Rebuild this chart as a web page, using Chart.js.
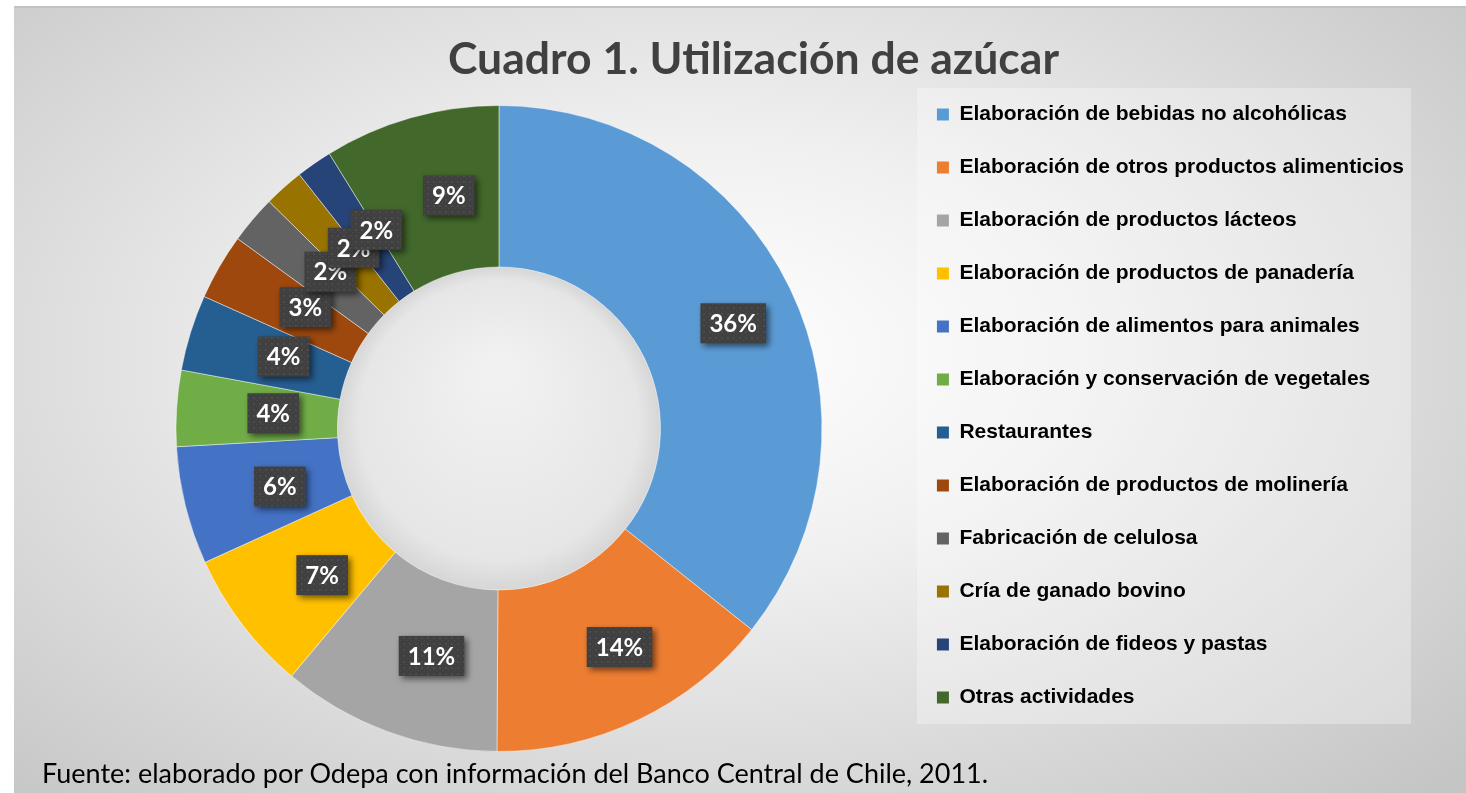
<!DOCTYPE html>
<html lang="es">
<head>
<meta charset="utf-8">
<title>Cuadro 1. Utilización de azúcar</title>
<script src="https://cdn.jsdelivr.net/npm/chart.js@4.4.1/dist/chart.umd.min.js"></script>
<style>
    html, body { margin: 0; padding: 0; background: #fff; }
    body { width: 1466px; height: 793px; position: relative; overflow: hidden; }
    #frame {
        position: absolute; left: 14px; top: 6px; right: 0; bottom: 0;
        border-top: 2px solid #c3c3c3;
        background: radial-gradient(ellipse 72% 78% at 47% 44%, #ffffff 0%, #f0f0f0 35%, #c5c5c5 100%);
    }
    #wrap { position: absolute; left: 0; top: 0; width: 1466px; height: 793px; }
    #source {
        position: absolute; left: 42px; top: 756px;
        font-family: Lato, "Open Sans", sans-serif; font-size: 27px; color: #000;
        white-space: nowrap;
    }
</style>
</head>
<body>
<div id="frame"></div>
<div id="wrap"><canvas id="chart"></canvas></div>
<div id="source">Fuente: elaborado por Odepa con información del Banco Central de Chile, 2011.</div>
<script>
const categories = [
    "Elaboración de bebidas no alcohólicas",
    "Elaboración de otros productos alimenticios",
    "Elaboración de productos lácteos",
    "Elaboración de productos de panadería",
    "Elaboración de alimentos para animales",
    "Elaboración y conservación de vegetales",
    "Restaurantes",
    "Elaboración de productos de molinería",
    "Fabricación de celulosa",
    "Cría de ganado bovino",
    "Elaboración de fideos y pastas",
    "Otras actividades"
];
// participación en %
const shares = [35.7, 14.4, 11.0, 7.1, 5.9, 3.8, 3.8, 3.3, 2.4, 2.0, 1.8, 8.8];
const sliceColors = [
    "#5b9bd5", "#ed7d31", "#a5a5a5", "#ffc000", "#4472c4", "#70ad47",
    "#255e91", "#9e480e", "#636363", "#997300", "#264478", "#43682b"
];

const legendPad = 32;

// textura de puntos para las etiquetas
const dots = document.createElement("canvas");
dots.width = 6; dots.height = 6;
const dctx = dots.getContext("2d");
dctx.fillStyle = "#404040";
dctx.fillRect(0, 0, 6, 6);
dctx.fillStyle = "#4c4c4c";
dctx.fillRect(1, 1, 2, 2);
dctx.fillRect(4, 4, 1, 1);

const legendBox = {
    id: "legendBox",
    beforeDraw(chart) {
        const lg = chart.legend;
        if (!lg || !lg.columnSizes) return;
        const col = lg.columnSizes[0];
        const y0 = (lg.top + legendPad + lg.bottom - col.height) / 2;
        const x0 = lg.left + legendPad;
        const ctx = chart.ctx;
        ctx.save();
        ctx.fillStyle = "rgba(255,255,255,0.3)";
        ctx.fillRect(x0 - 20, y0 - 16, col.width + 27, col.height);
        ctx.restore();
    }
};

const holeFill = {
    id: "holeFill",
    beforeDatasetsDraw(chart) {
        const arc = chart.getDatasetMeta(0).data[0];
        if (!arc) return;
        const {x, y, innerRadius} = arc.getProps(["x", "y", "innerRadius"], true);
        const ctx = chart.ctx;
        ctx.save();
        const g = ctx.createRadialGradient(x, y - innerRadius * 0.35, innerRadius * 0.1, x, y, innerRadius);
        g.addColorStop(0, "#f1f1f1");
        g.addColorStop(0.85, "#e6e6e6");
        g.addColorStop(1, "#d6d6d6");
        ctx.fillStyle = g;
        ctx.beginPath();
        ctx.arc(x, y, innerRadius, 0, Math.PI * 2);
        ctx.fill();
        ctx.restore();
    }
};

const sliceLabels = {
    id: "sliceLabels",
    afterDatasetsDraw(chart) {
        const ctx = chart.ctx;
        const meta = chart.getDatasetMeta(0);
        const total = shares.reduce((a, b) => a + b, 0);
        const pattern = ctx.createPattern(dots, "repeat");
        ctx.save();
        ctx.font = "bold 24px Lato, 'Open Sans', sans-serif";
        ctx.textAlign = "center";
        ctx.textBaseline = "middle";
        meta.data.forEach((arc, i) => {
            const p = arc.getProps(["x", "y", "startAngle", "endAngle", "innerRadius", "outerRadius"], true);
            const mid = (p.startAngle + p.endAngle) / 2;
            const r = (p.innerRadius + p.outerRadius) / 2;
            const cx = p.x + Math.cos(mid) * r + 16;
            const cy = p.y + Math.sin(mid) * r;
            const text = Math.round(shares[i] / total * 100) + "%";
            const w = ctx.measureText(text).width + 18;
            const h = 40;
            ctx.shadowColor = "rgba(0,0,0,0.55)";
            ctx.shadowBlur = 6;
            ctx.shadowOffsetX = 3;
            ctx.shadowOffsetY = 3;
            ctx.fillStyle = pattern;
            ctx.fillRect(cx - w / 2, cy - h / 2, w, h);
            ctx.shadowColor = "transparent";
            ctx.fillStyle = "#ffffff";
            ctx.fillText(text, cx, cy + 1);
        });
        ctx.restore();
    }
};

new Chart(document.getElementById("chart"), {
    type: "doughnut",
    data: {
        labels: categories,
        datasets: [{
            data: shares,
            backgroundColor: sliceColors,
            borderColor: "rgba(255,255,255,0.45)",
            borderWidth: 1,
            hoverOffset: 0
        }]
    },
    options: {
        responsive: true,
        maintainAspectRatio: false,
        animation: false,
        cutout: "50%",
        layout: { padding: { left: 93, right: 52, top: 60, bottom: 41 } },
        plugins: {
            title: {
                display: true,
                text: "Cuadro 1. Utilización de azúcar",
                color: "#404040",
                font: { family: "Lato, 'Open Sans', sans-serif", size: 44.5, weight: "bold", lineHeight: 1.2 },
                padding: { top: -26.7, bottom: 18.3 }
            },
            legend: {
                position: "right",
                labels: {
                    color: "#000",
                    font: { family: "'Liberation Sans', Arial, sans-serif", size: 21, weight: "bold" },
                    boxWidth: 12,
                    boxHeight: 12,
                    padding: legendPad,
                    generateLabels(chart) {
                        return chart.data.labels.map((label, i) => ({
                            text: label,
                            fillStyle: sliceColors[i],
                            strokeStyle: sliceColors[i],
                            lineWidth: 0,
                            hidden: false,
                            index: i
                        }));
                    }
                }
            },
            tooltip: { enabled: false }
        }
    },
    plugins: [legendBox, holeFill, sliceLabels]
});
</script>
</body>
</html>
